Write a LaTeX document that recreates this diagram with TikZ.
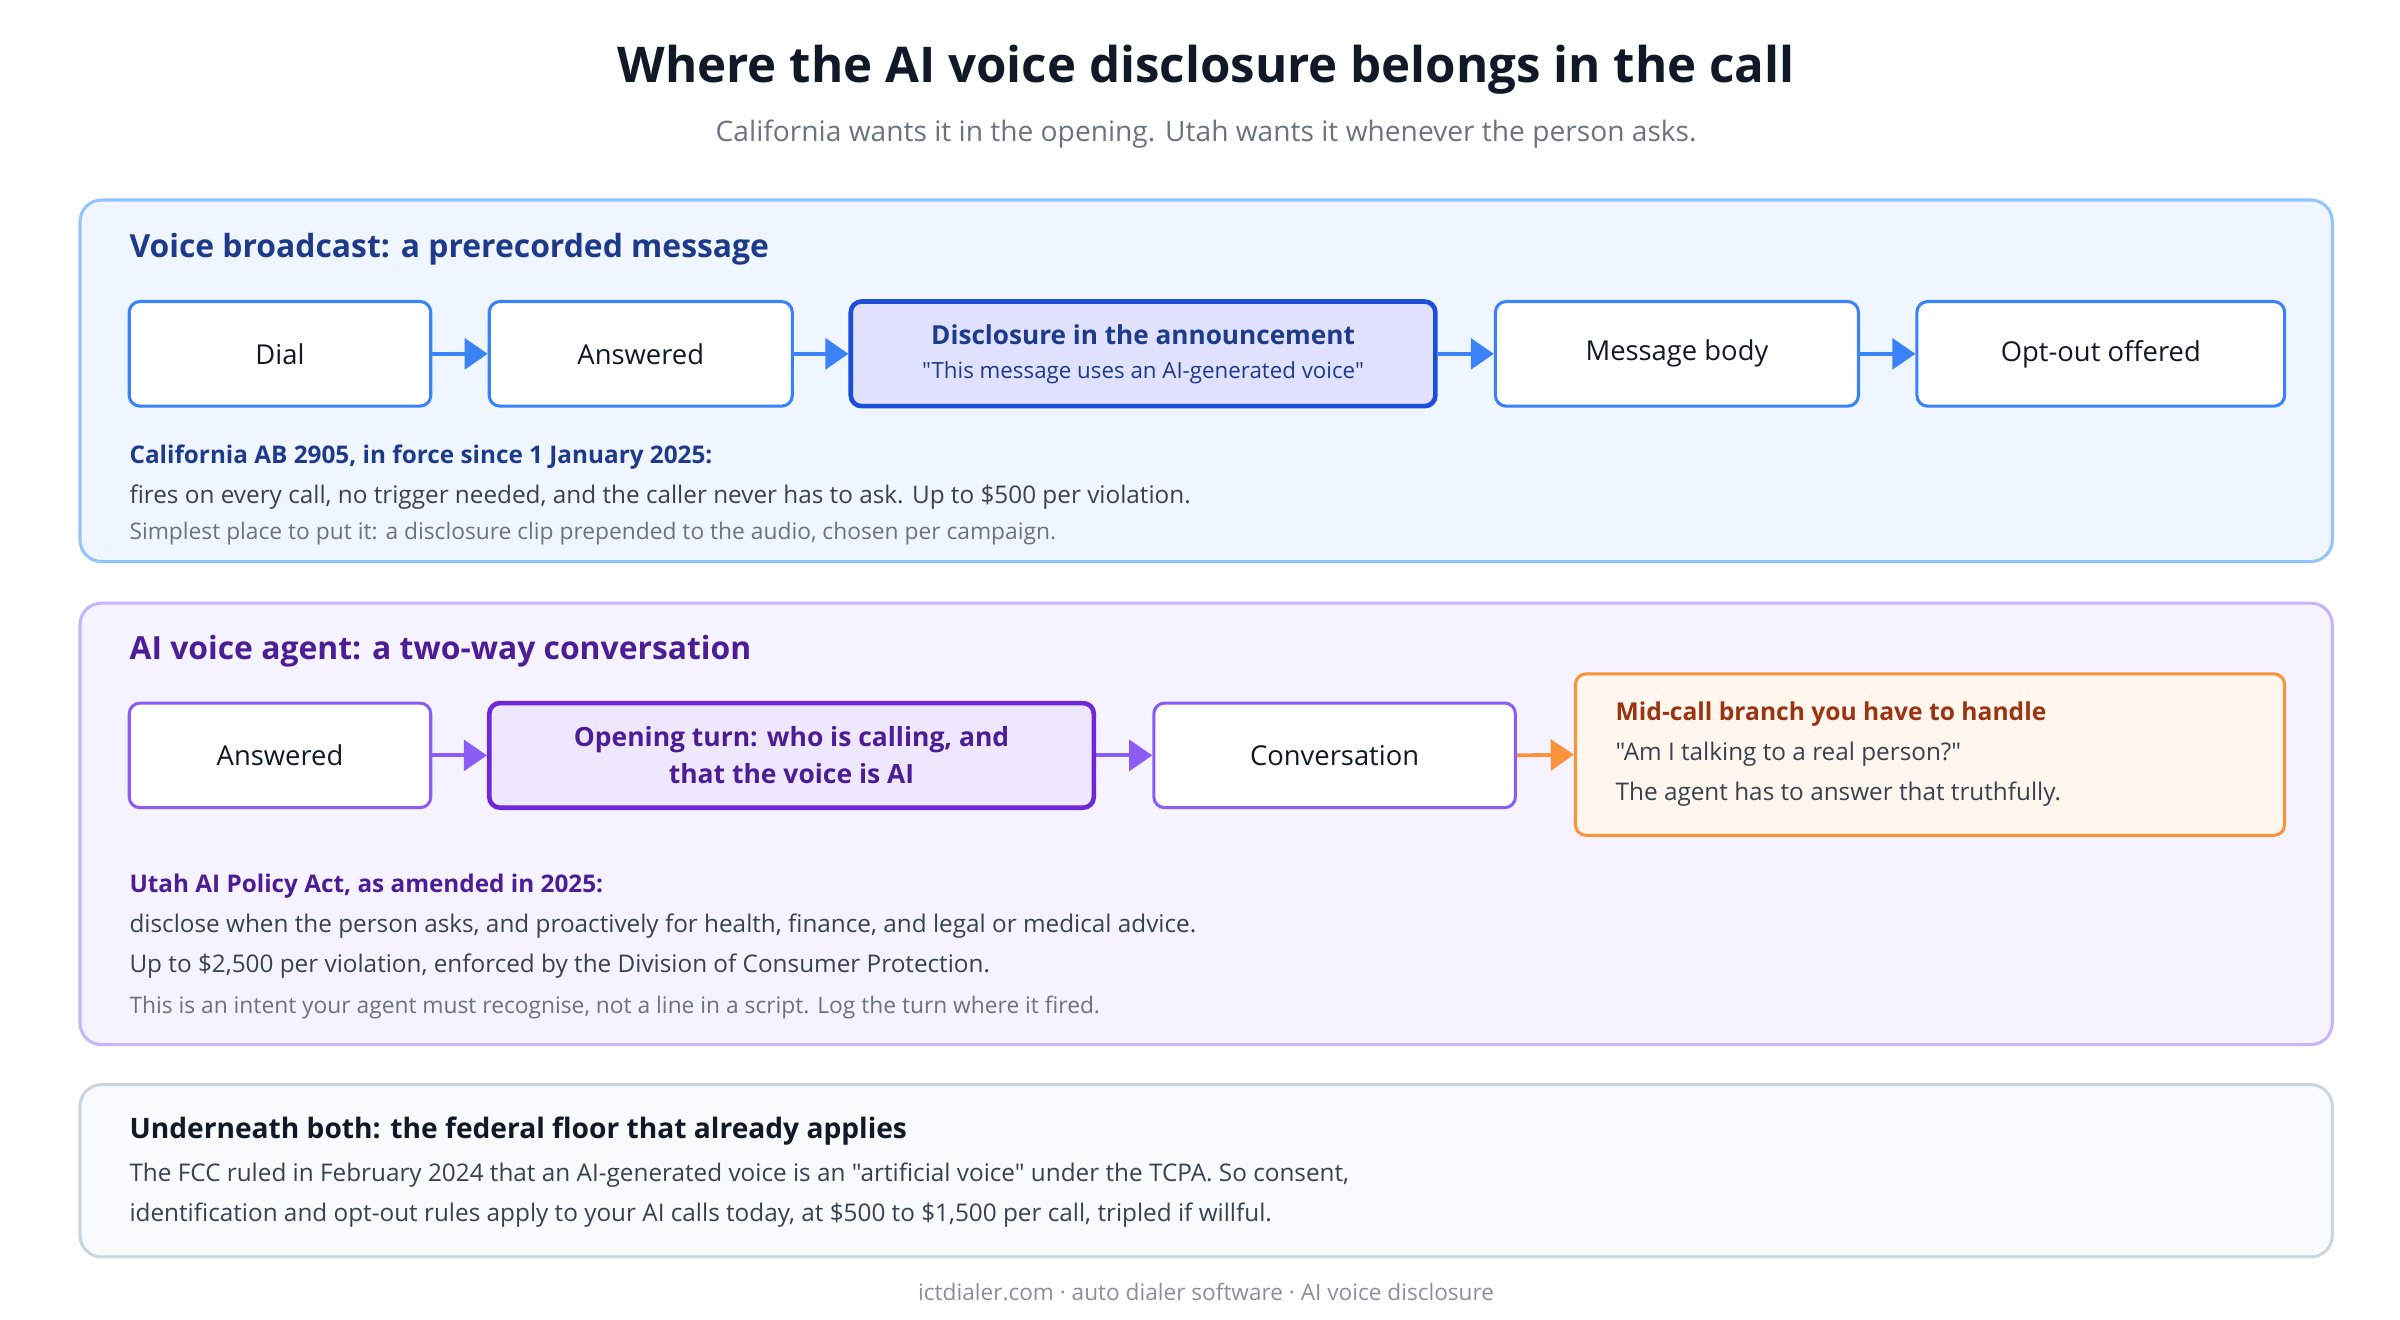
\documentclass[tikz,border=0pt]{standalone}
\usepackage{fontspec}
\setmainfont{Open Sans}[Ligatures=TeXOff]
\usetikzlibrary{arrows.meta}
\definecolor{navy}{HTML}{111827}
\definecolor{bblue}{HTML}{3B82F6}
\definecolor{dblue}{HTML}{1E3A8A}
\definecolor{sblue}{HTML}{1D4ED8}
\definecolor{purp}{HTML}{8B5CF6}
\definecolor{dpurp}{HTML}{4C1D95}
\definecolor{spurp}{HTML}{6D28D9}
\definecolor{oran}{HTML}{FB923C}
\definecolor{dorg}{HTML}{9A3412}
\definecolor{txt}{HTML}{374151}
\definecolor{gry}{HTML}{6B7280}
\definecolor{p1f}{HTML}{EFF6FF}
\definecolor{p1d}{HTML}{93C5FD}
\definecolor{p2f}{HTML}{F5F3FF}
\definecolor{p2d}{HTML}{C4B5FD}
\definecolor{p3f}{HTML}{F8FAFC}
\definecolor{p3d}{HTML}{CBD5E1}
\tikzset{
 panel/.style={rounded corners=14pt,line width=2pt},
 box/.style={draw,rounded corners=7pt,line width=2pt,fill=white,minimum height=68pt,align=center,text=navy,font=\fontsize{17.8}{21}\selectfont},
 lbl/.style={anchor=west,inner sep=0pt,font=\fontsize{15.8}{18}\selectfont,text=txt},
 sm/.style={anchor=west,inner sep=0pt,font=\fontsize{14.8}{16}\selectfont,text=gry},
 hd/.style={anchor=west,inner sep=0pt,font=\bfseries\fontsize{20.7}{24}\selectfont},
 arr/.style={line width=2.5pt,-{Triangle[length=15pt,width=20pt]}},
}
\begin{document}
\begin{tikzpicture}[x=1pt,y=-1pt]
\useasboundingbox (0,0) rectangle (1560,858);
\node[font=\bfseries\fontsize{32}{36}\selectfont,text=navy] (title) at (784,45) {Where the AI voice disclosure belongs in the call};
\node[font=\fontsize{18.3}{22}\selectfont,text=gry] (sub) at (784,87) {California wants it in the opening. Utah wants it whenever the person asks.};
% panel 1
\draw[panel,draw=p1d,fill=p1f] (52,130) rectangle (1516,365);
\node[hd,text=dblue] (h1) at (84,162) {Voice broadcast: a prerecorded message};
\begin{scope}[every node/.style={box,draw=bblue}]
\node[minimum width=196pt] (b1) at (182,230) {Dial};
\node[minimum width=197pt] (b2) at (416.5,230) {Answered};
\node[minimum width=380pt,draw=sblue,line width=3pt,fill=blue!12] (b3) at (743,230) {\textcolor{dblue}{\bfseries\fontsize{17}{21}\selectfont Disclosure in the announcement}\\[1pt]{\fontsize{14.5}{17}\selectfont\textcolor{dblue}{"This message uses an AI-generated voice"}}};
\node[minimum width=236pt] (b4) at (1090,230) {Message body};
\node[minimum width=239pt] (b5) at (1365.5,230) {Opt-out offered};
\end{scope}
\foreach \a/\b in {b1/b2,b2/b3,b3/b4,b4/b5} \draw[arr,bblue] (\a.east) -- (\b.west);
\node[lbl,text=dblue,font=\bfseries\fontsize{15.8}{18}\selectfont] (t1) at (84,297) {California AB 2905, in force since 1 January 2025:};
\node[lbl] (t2) at (84,323) {fires on every call, no trigger needed, and the caller never has to ask. Up to \$500 per violation.};
\node[sm] (t3) at (84,347) {Simplest place to put it: a disclosure clip prepended to the audio, chosen per campaign.};
% panel 2
\draw[panel,draw=p2d,fill=p2f] (52,392) rectangle (1516,679);
\node[hd,text=dpurp] (h2) at (84,423) {AI voice agent: a two-way conversation};
\begin{scope}[every node/.style={box,draw=purp}]
\node[minimum width=196pt] (c1) at (182,491) {Answered};
\node[minimum width=393pt,draw=spurp,line width=3pt,fill=purp!15,text=dpurp,font=\bfseries\fontsize{17.2}{24}\selectfont] (c2) at (514.5,491) {Opening turn: who is calling, and\\that the voice is AI};
\node[minimum width=235pt] (c3) at (867.5,491) {Conversation};
\end{scope}
\node[box,draw=oran,fill=orange!7,minimum width=461pt,minimum height=105pt] (c4) at (1254.5,490.5) {};
\node[lbl,text=dorg,font=\bfseries\fontsize{16}{18}\selectfont] (o1) at (1050,464) {Mid-call branch you have to handle};
\node[lbl] (o2) at (1050,490) {"Am I talking to a real person?"};
\node[lbl] (o3) at (1050,516) {The agent has to answer that truthfully.};
\draw[arr,purp] (c1.east) -- (c2.west);
\draw[arr,purp] (c2.east) -- (c3.west);
\draw[arr,oran] (c3.east) -- (c4.west);
\node[lbl,text=dpurp,font=\bfseries\fontsize{15.8}{18}\selectfont] (u1) at (84,576) {Utah AI Policy Act, as amended in 2025:};
\node[lbl] (u2) at (84,602) {disclose when the person asks, and proactively for health, finance, and legal or medical advice.};
\node[lbl] (u3) at (84,628) {Up to \$2,500 per violation, enforced by the Division of Consumer Protection.};
\node[sm] (u4) at (84,655) {This is an intent your agent must recognise, not a line in a script. Log the turn where it fired.};
% panel 3
\draw[panel,draw=p3d,fill=p3f] (52,705) rectangle (1516,817);
\node[hd,text=navy,font=\bfseries\fontsize{18.3}{22}\selectfont] (h3) at (84,735) {Underneath both: the federal floor that already applies};
\node[lbl] (f1) at (84,764) {The FCC ruled in February 2024 that an AI-generated voice is an "artificial voice" under the TCPA. So consent,};
\node[lbl] (f2) at (84,790) {identification and opt-out rules apply to your AI calls today, at \$500 to \$1,500 per call, tripled if willful.};
\node[font=\fontsize{14.7}{16}\selectfont,text=gry!80] (foot) at (784,840) {ictdialer.com · auto dialer software · AI voice disclosure};
\end{tikzpicture}
\end{document}
